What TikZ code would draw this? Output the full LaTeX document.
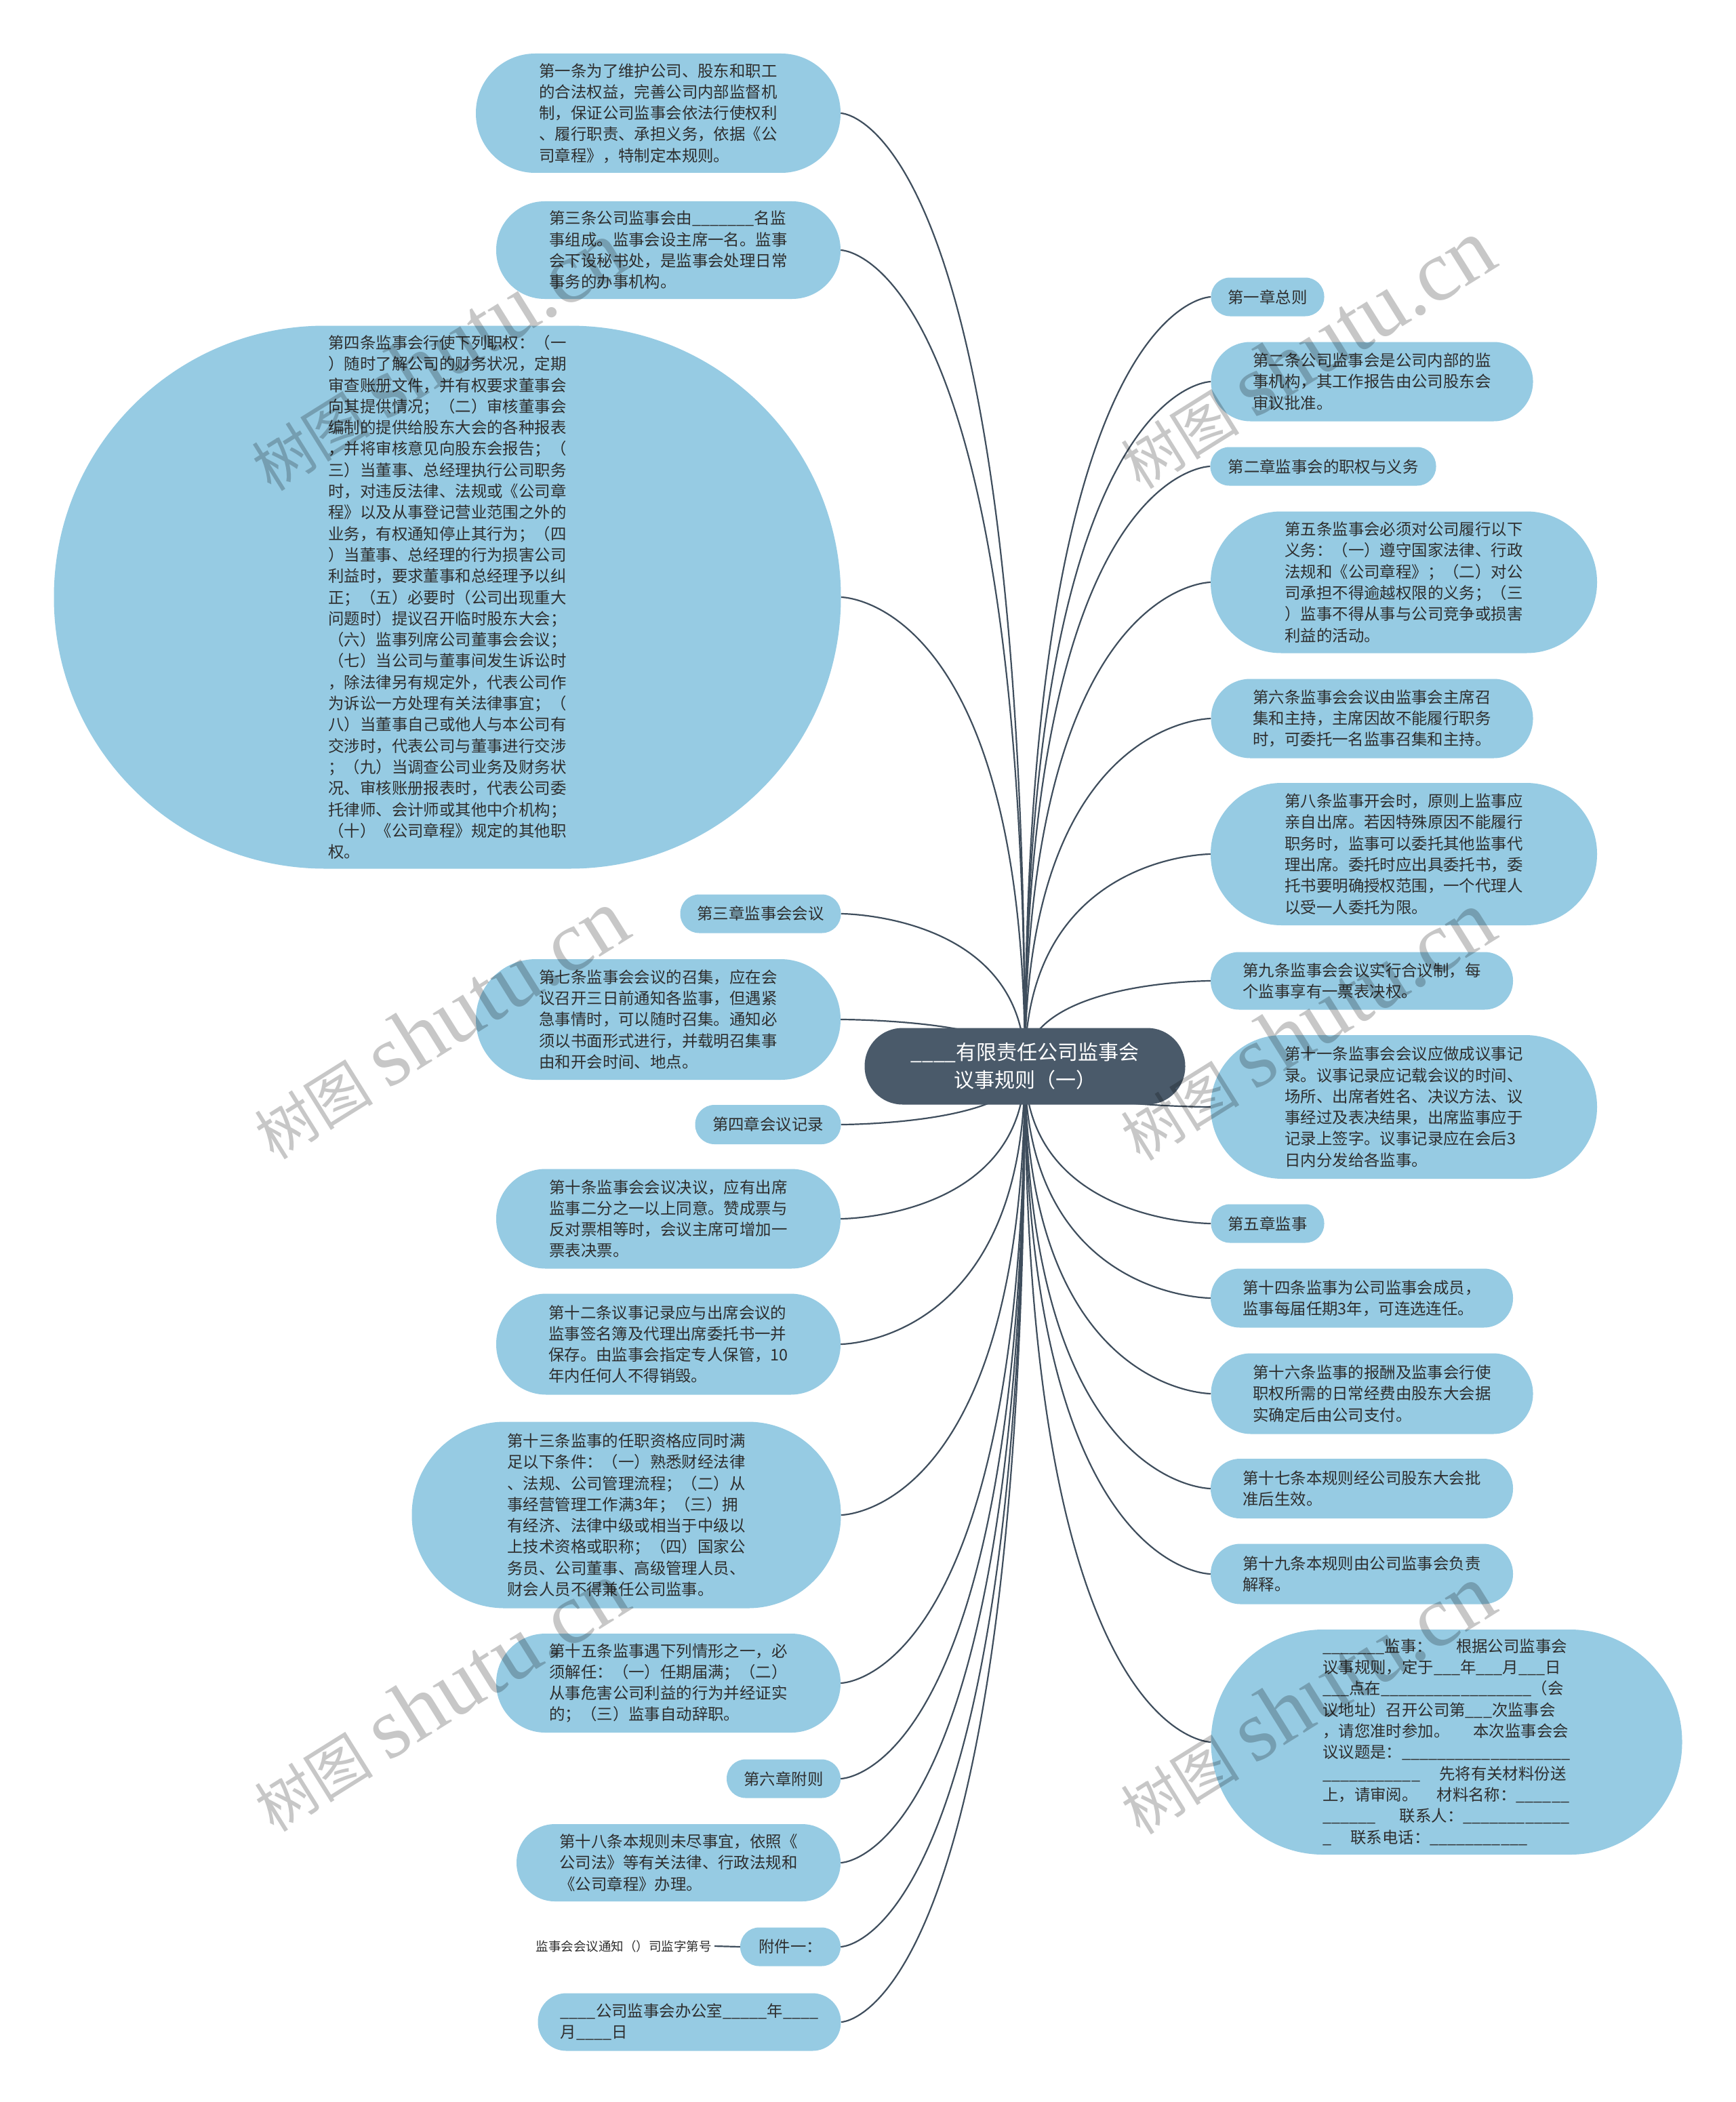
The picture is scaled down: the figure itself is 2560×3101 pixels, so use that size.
\documentclass[tikz,border=0pt]{standalone}
\usepackage{fontspec}
\usetikzlibrary{backgrounds}
\setmainfont{Noto Sans CJK SC}
\newfontfamily\wmserif{Liberation Serif}
\definecolor{leafblue}{HTML}{96CBE3}
\definecolor{rootc}{HTML}{4A5A6A}
\definecolor{connc}{HTML}{3F4E5D}
\definecolor{txtc}{HTML}{2E2E2E}
\ExplSyntaxOn
\NewDocumentCommand\myus{m}{\prg_replicate:nn{#1}{\textunderscore}}
\ExplSyntaxOff
\tikzset{
 leaf/.style={fill=leafblue, text=txtc, align=left, inner sep=0pt, font=\fontsize{23.4}{31.3}\selectfont},
 rootnode/.style={fill=rootc, text=white, align=center, inner sep=0pt, font=\fontsize{30}{41.5}\selectfont},
 conn/.style={draw=connc, line width=2.2pt},
 wm/.style={rotate=32, text=black, text opacity=0.22, inner sep=0pt},
 plain/.style={text=txtc, inner sep=4pt, font=\fontsize{18.5}{22}\selectfont}
}
\begin{document}
\begin{tikzpicture}[x=1pt,y=-1pt]
\useasboundingbox (0,0) rectangle (2560,3101);

% ---------- left nodes ----------
\node[leaf, minimum width=538pt, minimum height=176pt, rounded corners=87.5pt] (L1) at (971,167) {第一条为了维护公司、股东和职工\\的合法权益，完善公司内部监督机\\制，保证公司监事会依法行使权利\\、履行职责、承担义务，依据《公\\司章程》，特制定本规则。};
\node[leaf, minimum width=508pt, minimum height=144pt, rounded corners=71.5pt] (L2) at (986,369) {第三条公司监事会由\myus{7}名监\\事组成。监事会设主席一名。监事\\会下设秘书处，是监事会处理日常\\事务的办事机构。};
\node[leaf, minimum width=1161pt, minimum height=801pt, rounded corners=400pt] (L3) at (660,881) {第四条监事会行使下列职权：（一\\）随时了解公司的财务状况，定期\\审查账册文件，并有权要求董事会\\向其提供情况；（二）审核董事会\\编制的提供给股东大会的各种报表\\，并将审核意见向股东会报告；（\\三）当董事、总经理执行公司职务\\时，对违反法律、法规或《公司章\\程》以及从事登记营业范围之外的\\业务，有权通知停止其行为；（四\\）当董事、总经理的行为损害公司\\利益时，要求董事和总经理予以纠\\正；（五）必要时（公司出现重大\\问题时）提议召开临时股东大会；\\（六）监事列席公司董事会会议；\\（七）当公司与董事间发生诉讼时\\，除法律另有规定外，代表公司作\\为诉讼一方处理有关法律事宜；（\\八）当董事自己或他人与本公司有\\交涉时，代表公司与董事进行交涉\\；（九）当调查公司业务及财务状\\况、审核账册报表时，代表公司委\\托律师、会计师或其他中介机构；\\（十）《公司章程》规定的其他职\\权。};
\node[leaf, minimum width=237pt, minimum height=57pt, rounded corners=28pt] (L4) at (1122,1348) {第三章监事会会议};
\node[leaf, minimum width=538pt, minimum height=178pt, rounded corners=88.5pt] (L5) at (971,1504) {第七条监事会会议的召集，应在会\\议召开三日前通知各监事，但遇紧\\急事情时，可以随时召集。通知必\\须以书面形式进行，并载明召集事\\由和开会时间、地点。};
\node[leaf, minimum width=215pt, minimum height=58pt, rounded corners=28.5pt] (L6) at (1133,1659) {第四章会议记录};
\node[leaf, minimum width=508pt, minimum height=147pt, rounded corners=73pt] (L7) at (986,1798) {第十条监事会会议决议，应有出席\\监事二分之一以上同意。赞成票与\\反对票相等时，会议主席可增加一\\票表决票。};
\node[leaf, minimum width=508pt, minimum height=149pt, rounded corners=74pt] (L8) at (986,1983) {第十二条议事记录应与出席会议的\\监事签名簿及代理出席委托书一并\\保存。由监事会指定专人保管，10\\年内任何人不得销毁。};
\node[leaf, minimum width=633pt, minimum height=275pt, rounded corners=137pt] (L9) at (924,2235) {第十三条监事的任职资格应同时满\\足以下条件：（一）熟悉财经法律\\、法规、公司管理流程；（二）从\\事经营管理工作满3年；（三）拥\\有经济、法律中级或相当于中级以\\上技术资格或职称；（四）国家公\\务员、公司董事、高级管理人员、\\财会人员不得兼任公司监事。};
\node[leaf, minimum width=508pt, minimum height=146pt, rounded corners=72.5pt] (L10) at (986,2483) {第十五条监事遇下列情形之一，必\\须解任：（一）任期届满；（二）\\从事危害公司利益的行为并经证实\\的；（三）监事自动辞职。};
\node[leaf, minimum width=168pt, minimum height=57pt, rounded corners=28pt] (L11) at (1156,2624) {第六章附则};
\node[leaf, minimum width=478pt, minimum height=114pt, rounded corners=56.5pt] (L12) at (1001,2748) {第十八条本规则未尽事宜，依照《\\公司法》等有关法律、行政法规和\\《公司章程》办理。};
\node[leaf, minimum width=148pt, minimum height=57pt, rounded corners=28pt] (L13) at (1166,2872) {附件一：};
\node[leaf, minimum width=447pt, minimum height=85pt, rounded corners=42pt] (L14) at (1017,2983) {\myus{4}公司监事会办公室\myus{5}年\myus{4}\\月\myus{4}日};

% ---------- right nodes ----------
\node[leaf, minimum width=167pt, minimum height=57pt, rounded corners=28pt] (R1) at (1870,438) {第一章总则};
\node[leaf, minimum width=475pt, minimum height=117pt, rounded corners=58pt] (R2) at (2024,563) {第二条公司监事会是公司内部的监\\事机构，其工作报告由公司股东会\\审议批准。};
\node[leaf, minimum width=333pt, minimum height=57pt, rounded corners=28pt] (R3) at (1952,688) {第二章监事会的职权与义务};
\node[leaf, minimum width=570pt, minimum height=209pt, rounded corners=104pt] (R4) at (2071,859) {第五条监事会必须对公司履行以下\\义务：（一）遵守国家法律、行政\\法规和《公司章程》；（二）对公\\司承担不得逾越权限的义务；（三\\）监事不得从事与公司竞争或损害\\利益的活动。};
\node[leaf, minimum width=475pt, minimum height=117pt, rounded corners=58pt] (R5) at (2024,1060) {第六条监事会会议由监事会主席召\\集和主持，主席因故不能履行职务\\时，可委托一名监事召集和主持。};
\node[leaf, minimum width=570pt, minimum height=210pt, rounded corners=104.5pt] (R6) at (2071,1260) {第八条监事开会时，原则上监事应\\亲自出席。若因特殊原因不能履行\\职务时，监事可以委托其他监事代\\理出席。委托时应出具委托书，委\\托书要明确授权范围，一个代理人\\以受一人委托为限。};
\node[leaf, minimum width=446pt, minimum height=85pt, rounded corners=42pt] (R7) at (2009,1447) {第九条监事会会议实行合议制，每\\个监事享有一票表决权。};
\node[leaf, minimum width=570pt, minimum height=212pt, rounded corners=105.5pt] (R8) at (2071,1633) {第十一条监事会会议应做成议事记\\录。议事记录应记载会议的时间、\\场所、出席者姓名、决议方法、议\\事经过及表决结果，出席监事应于\\记录上签字。议事记录应在会后3\\日内分发给各监事。};
\node[leaf, minimum width=167pt, minimum height=57pt, rounded corners=28pt] (R9) at (1870,1805) {第五章监事};
\node[leaf, minimum width=446pt, minimum height=87pt, rounded corners=43pt] (R10) at (2009,1915) {第十四条监事为公司监事会成员，\\监事每届任期3年，可连选连任。};
\node[leaf, minimum width=475pt, minimum height=119pt, rounded corners=59pt] (R11) at (2024,2056) {第十六条监事的报酬及监事会行使\\职权所需的日常经费由股东大会据\\实确定后由公司支付。};
\node[leaf, minimum width=446pt, minimum height=88pt, rounded corners=43.5pt] (R12) at (2009,2196) {第十七条本规则经公司股东大会批\\准后生效。};
\node[leaf, minimum width=446pt, minimum height=89pt, rounded corners=44pt] (R13) at (2009,2322) {第十九条本规则由公司监事会负责\\解释。};
\node[leaf, minimum width=695pt, minimum height=332pt, rounded corners=165.5pt] (R14) at (2134,2570) {\myus{7}监事：\hspace{1.5em}根据公司监事会\\议事规则，定于\myus{3}年\myus{3}月\myus{3}日\\\myus{3}点在\myus{17}（会\\议地址）召开公司第\myus{3}次监事会\\，请您准时参加。\hspace{1.5em}本次监事会会\\议议题是：\myus{19}\\\myus{11}\hspace{1.2em}先将有关材料份送\\上，请审阅。\hspace{1.2em}材料名称：\myus{6}\\\myus{6}\hspace{1.5em}联系人：\myus{12}\\\textunderscore\hspace{1.2em}联系电话：\myus{11}};

% ---------- small detached text ----------
\node[plain, anchor=east] (S1) at (1054,2871) {监事会会议通知（）司监字第号};

% ---------- root + connectors ----------
\coordinate (rc) at (1512,1573);
\begin{scope}[on background layer]
\fill[white] (0,0) rectangle (2560,3101);
\foreach \n in {L1,L2,L3,L4,L5,L6,L7,L8,L9,L10,L11,L12,L13,L14}
  \draw[conn] (rc) .. controls (rc |- \n.east) and (\n.east) .. (\n.east);
\foreach \n in {R1,R2,R3,R4,R5,R6,R7,R8,R9,R10,R11,R12,R13,R14}
  \draw[conn] (rc) .. controls (rc |- \n.west) and (\n.west) .. (\n.west);
\draw[conn] (S1.east) -- (L13.west);
\end{scope}

\node[rootnode, minimum width=473pt, minimum height=113pt, rounded corners=56pt] (root) at (rc) {\myus{4}有限责任公司监事会\\议事规则（一）};

% ---------- watermarks ----------
\foreach \wx/\wy [count=\i] in {645/525, 1927/522, 649/1511, 1927/1513, 649/2503, 1927/2507}
  \node[wm] (wm\i) at (\wx,\wy) {\fontsize{88}{90}\selectfont 树图\hspace{0.25em}{\wmserif\fontsize{128}{130}\selectfont shutu.cn}};
\end{tikzpicture}
\end{document}
